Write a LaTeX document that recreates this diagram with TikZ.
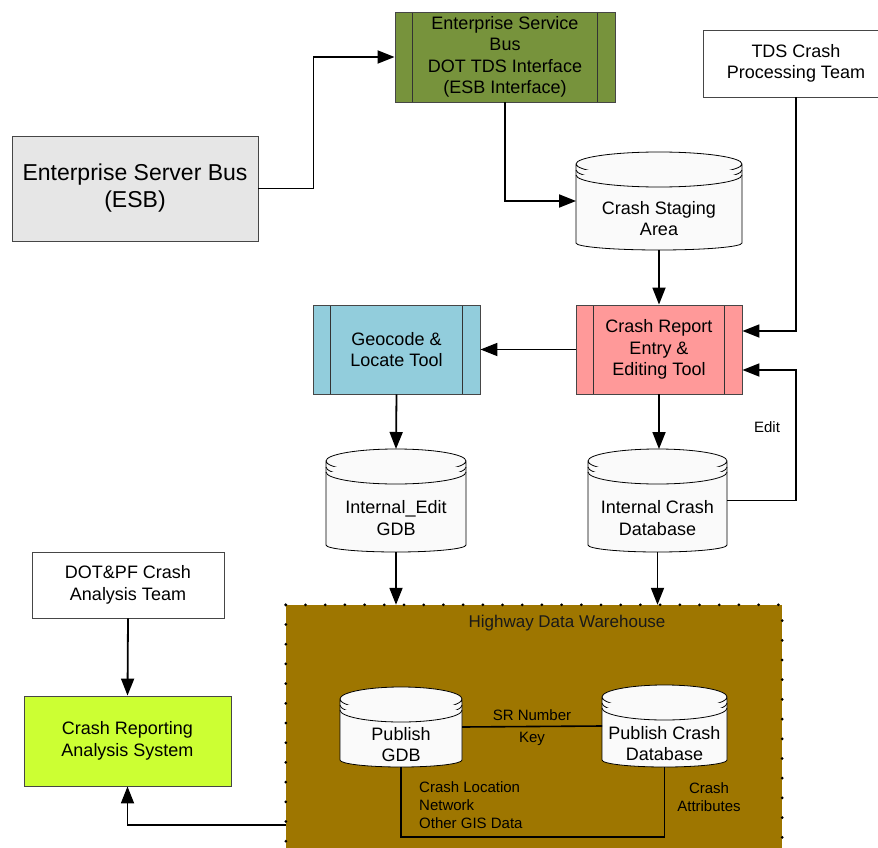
\documentclass[tikz,border=0pt]{standalone}
\usepackage{fontspec}
\setmainfont{Liberation Sans}
\usepackage{tikz}
\usetikzlibrary{arrows.meta, positioning}

\definecolor{esbgray}{RGB}{230,230,230}
\definecolor{esbgreen}{RGB}{119,147,60}
\definecolor{geoblue}{RGB}{146,205,220}
\definecolor{editpink}{RGB}{255,153,153}
\definecolor{craslime}{RGB}{204,255,51}
\definecolor{hdwgold}{RGB}{158,118,0}
\definecolor{boxline}{RGB}{70,70,70}
\definecolor{dbfill}{RGB}{250,250,250}

\newcommand{\boxfont}{\fontsize{18}{21.5}\selectfont}
\newcommand{\esbfont}{\fontsize{23}{27}\selectfont}
\newcommand{\titlefont}{\fontsize{17}{19}\selectfont}
\newcommand{\lblfont}{\fontsize{15}{18}\selectfont}

% database drum: name, centre, width, height, text
\newcommand{\crashdb}[5]{%
  \node[dbbox, minimum width=#3pt, minimum height=#4pt] (#1) at (#2) {};
  \filldraw[dbline] ([yshift=-12pt]#1.north west) -- ([yshift=7pt]#1.south west)
    arc[start angle=180, end angle=360, x radius=#3pt/2, y radius=7pt]
    -- ([yshift=-12pt]#1.north east)
    arc[start angle=0, end angle=360, x radius=#3pt/2, y radius=12pt];
  \draw[dbline] ([yshift=-18pt]#1.north west)
    arc[start angle=180, end angle=360, x radius=#3pt/2, y radius=12pt];
  \draw[dbline] ([yshift=-23pt]#1.north west)
    arc[start angle=180, end angle=360, x radius=#3pt/2, y radius=12pt];
  \node[dbtext] at ([yshift=-17.5pt]#1.center) {#5};
}

\begin{document}
\begin{tikzpicture}[
    x=1pt, y=-1pt,
    plainbox/.style={draw=boxline, line width=0.9pt, align=center,
        font=\boxfont, inner sep=0pt},
    procbox/.style={plainbox, fill=#1, minimum height=89pt,
        path picture={
          \draw[line width=1.8pt, black!80]
            ([xshift=17.5pt]path picture bounding box.north west) --
            ([xshift=17.5pt]path picture bounding box.south west);
          \draw[line width=1.8pt, black!80]
            ([xshift=-17.5pt]path picture bounding box.north east) --
            ([xshift=-17.5pt]path picture bounding box.south east);
        }},
    dbbox/.style={inner sep=0pt, outer sep=0pt},
    dbline/.style={draw=black, fill=dbfill, line width=0.8pt},
    dbtext/.style={align=center, font=\boxfont, inner sep=0pt},
    flow/.style={draw=black, line width=1.8pt,
        -{Triangle[length=17pt, width=13pt]}},
    link/.style={draw=black, line width=1.6pt},
    dotborder/.style={draw=black, line width=3pt, line cap=round,
        dash pattern=on 0pt off 19.7pt},
]
\useasboundingbox (0,0) rectangle (878,848);

% warehouse
\node[fill=hdwgold, minimum width=496pt, minimum height=265pt, inner sep=0pt]
    (hdw) at (534,737.5) {};
\draw[dotborder] (hdw.north west) -- (hdw.south west);
\draw[dotborder] (hdw.north west) -- (hdw.north east) -- (hdw.south east);
\node[font=\titlefont, text=black!90] (hdwtitle) at (567,623) {Highway Data Warehouse};

% boxes
\node[plainbox, fill=esbgray, minimum width=246pt, minimum height=105pt,
    font=\esbfont] (esb) at (135,188.5) {Enterprise Server Bus\\(ESB)};
\node[procbox=esbgreen, minimum width=220pt, minimum height=90pt]
    (esbif) at (505,57) {Enterprise Service\\Bus\\DOT TDS Interface\\(ESB Interface)};
\node[plainbox, fill=white, minimum width=186pt, minimum height=67pt]
    (tds) at (796,63.5) {TDS Crash\\Processing Team};
\node[procbox=editpink, minimum width=166pt]
    (cret) at (659,349.5) {Crash Report\\Entry \&\\Editing Tool};
\node[procbox=geoblue, minimum width=167pt]
    (geo) at (396.5,349.5) {Geocode \&\\Locate Tool};
\node[plainbox, fill=white, minimum width=192pt, minimum height=66pt]
    (dotpf) at (128,585) {DOT\&PF Crash\\Analysis Team};
\node[plainbox, fill=craslime, minimum width=207pt, minimum height=90pt]
    (cras) at (127.5,741) {Crash Reporting\\Analysis System};

% databases
\crashdb{stage}{659,201}{166}{98}{Crash Staging\\Area}
\crashdb{ied}{396,500.5}{140}{103}{Internal\_Edit\\GDB}
\crashdb{icd}{657.5,500.5}{139}{103}{Internal Crash\\Database}
\crashdb{pgdb}{401,727}{122}{80}{Publish\\GDB}
\crashdb{pcdb}{664.5,726}{125}{82}{Publish Crash\\Database}

% labels
\node[font=\lblfont] (edit) at (767,427) {Edit};
\node[font=\lblfont, align=left, anchor=west, inner sep=0pt]
    (gislbl) at (419,805) {Crash Location\\Network\\Other GIS Data};
\node[font=\lblfont, align=center, inner sep=0pt]
    (attrlbl) at (709,797.5) {Crash\\Attributes};

% connectors
\draw[flow] (esb.east) -- ++(55,0) |- (esbif.west);
\draw[flow] (esbif.south) |- (stage.west);
\draw[flow] (stage.south) -- (cret.north);
\draw[flow] (tds.south) |- ([yshift=18.5pt]cret.east);
\draw[flow] (icd.east) -- (icd.east -| tds.south) |- ([yshift=-20.5pt]cret.east);
\draw[flow] (cret.west) -- (geo.east);
\draw[flow] (geo.south) -- (ied.north);
\draw[flow] (cret.south) -- (cret.south |- icd.north);
\draw[flow] (ied.south) -- (ied.south |- hdw.north);
\draw[flow] (icd.south) -- (icd.south |- hdw.north);
\draw[flow] (dotpf.south) -- (cras.north);
\draw[flow] ([yshift=-87.5pt]hdw.west) -| (cras.south);
\draw[link] (pgdb.east) -- node[above=2pt, font=\lblfont] {SR Number}
    node[below=2pt, font=\lblfont] {Key} (pcdb.west);
\draw[link] (pgdb.south) -- ++(0,70) -| (pcdb.south);
\end{tikzpicture}
\end{document}
